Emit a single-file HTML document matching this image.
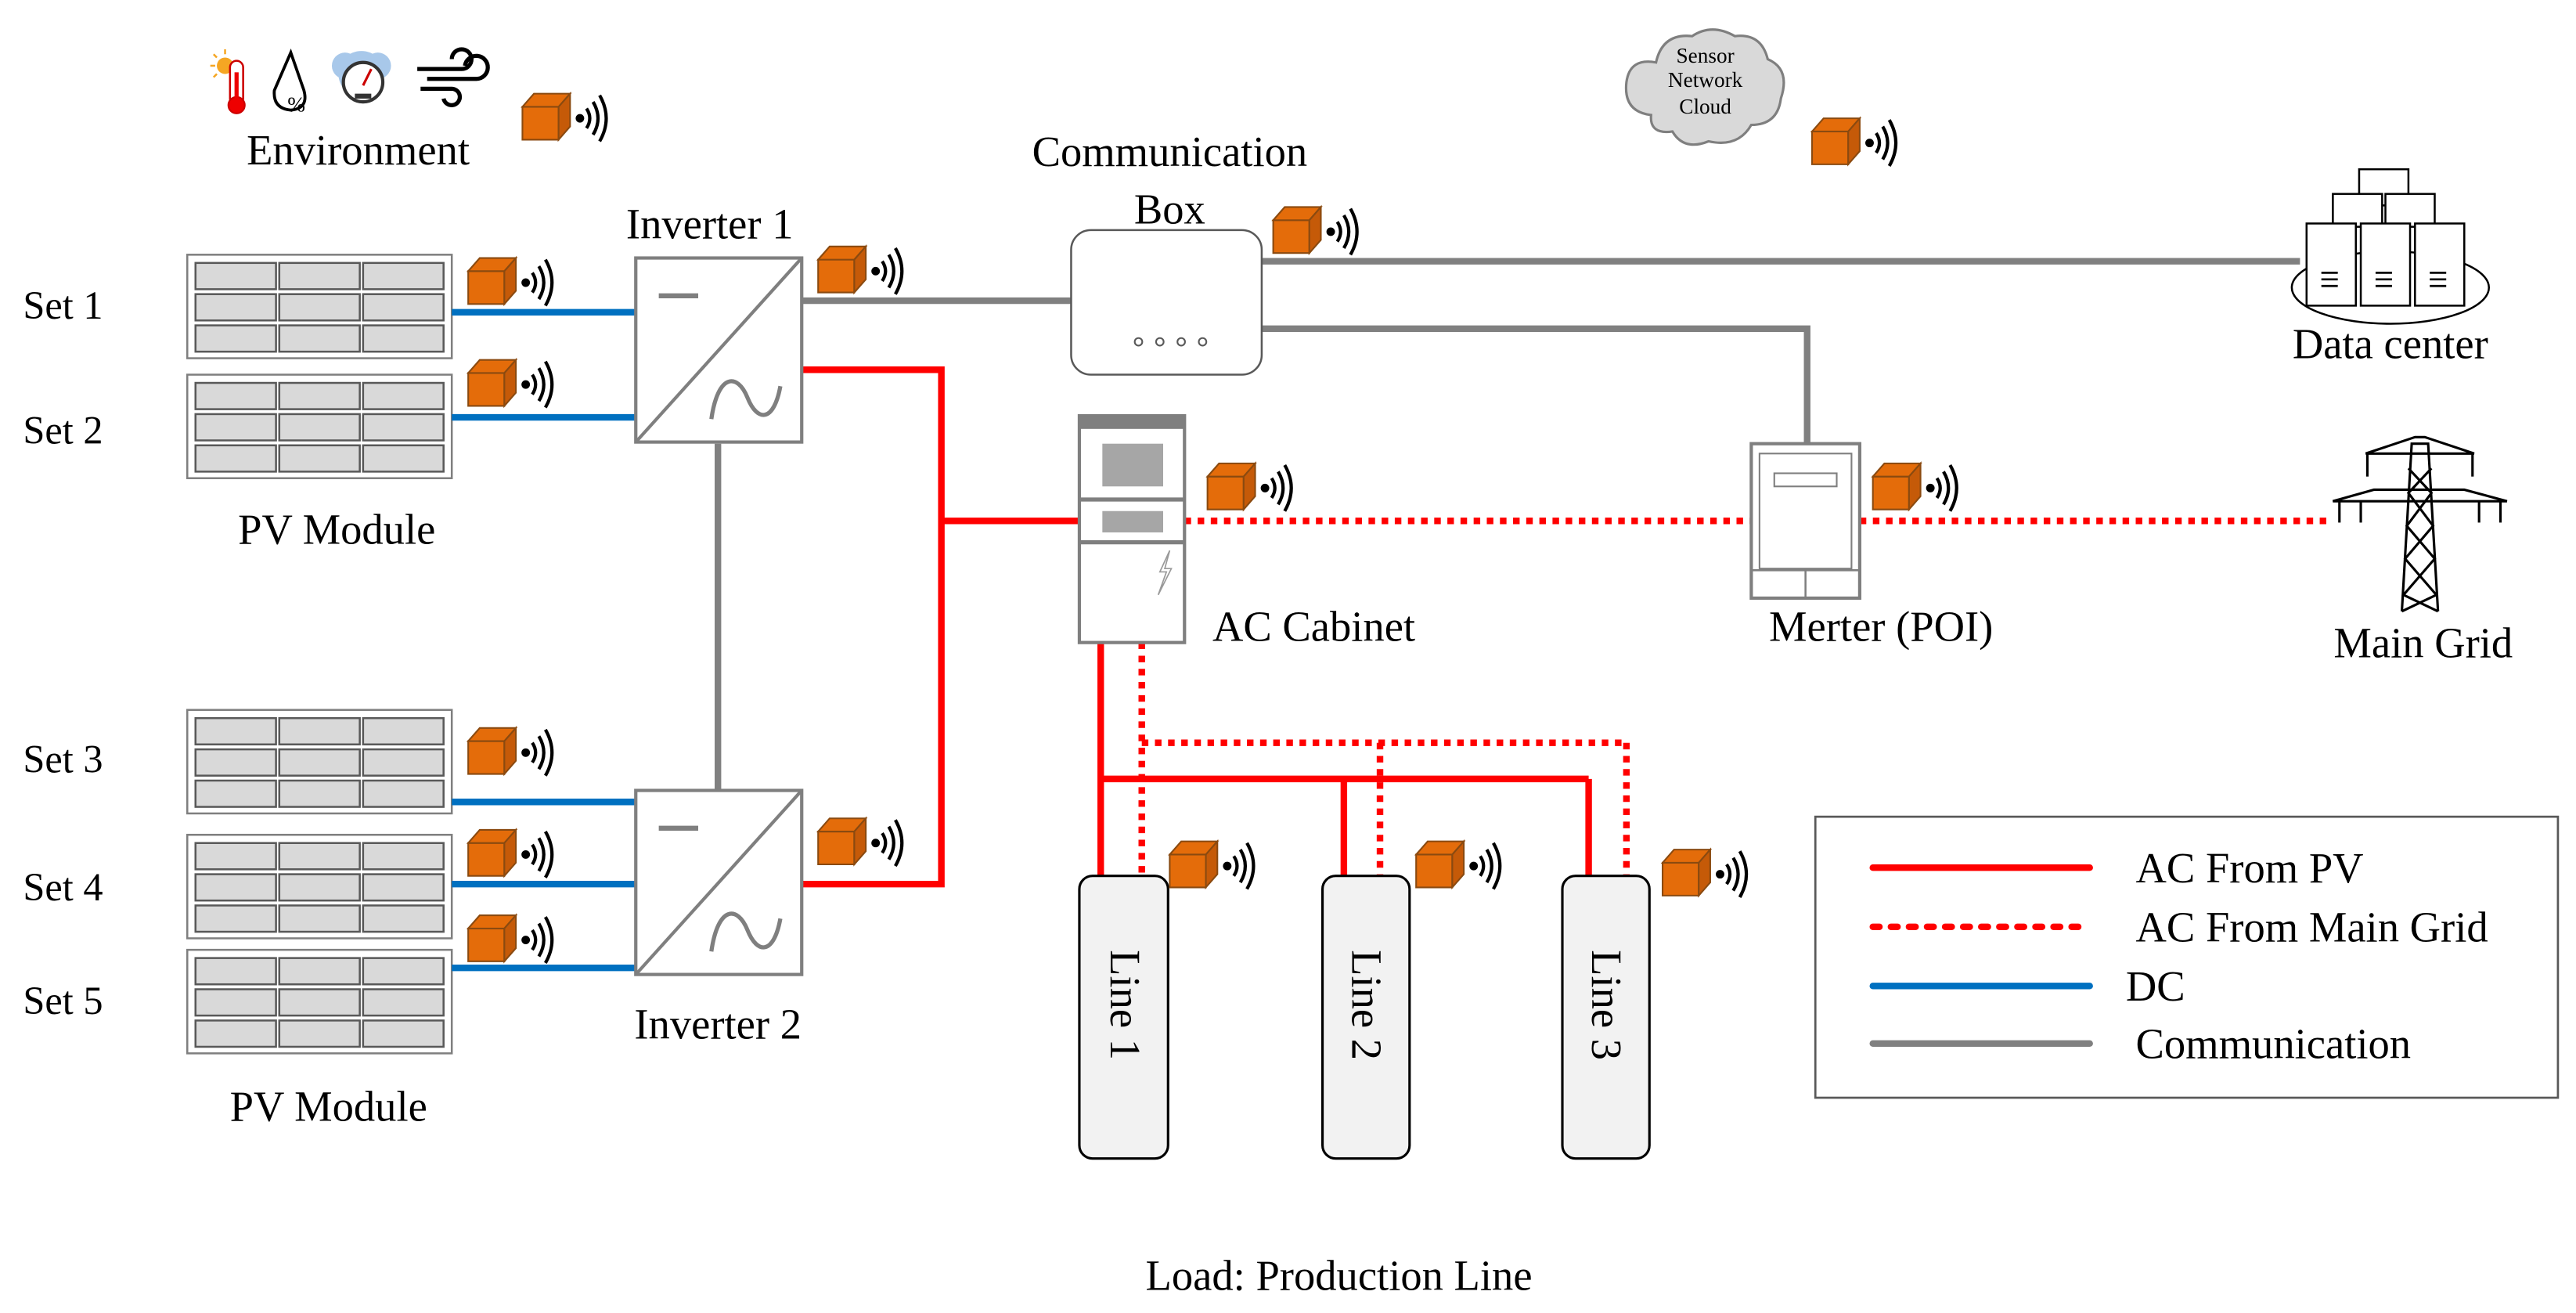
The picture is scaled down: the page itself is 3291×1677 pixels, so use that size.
<!DOCTYPE html>
<html><head><meta charset="utf-8"><style>
html,body{margin:0;padding:0;background:#fff;}
svg{display:block;}
text{font-family:"Liberation Serif","Times New Roman",serif;fill:#000;}
</style></head><body>
<svg width="3291" height="1677" viewBox="0 0 1568 799" preserveAspectRatio="none" xmlns="http://www.w3.org/2000/svg" font-family="Liberation Serif, serif">
<defs>
<g id="sensor">
  <polygon points="0,8 22,8 22,28 0,28" fill="#e46c0a" stroke="#8a4a10" stroke-width="1"/>
  <polygon points="0,8 7,0 29,0 22,8" fill="#e46c0a" stroke="#8a4a10" stroke-width="1"/>
  <polygon points="22,8 29,0 29,20 22,28" fill="#c55a08" stroke="#8a4a10" stroke-width="1"/>
  <circle cx="35" cy="15" r="2.6" fill="#000"/>
  <path d="M39,9 Q43,15 39,21" fill="none" stroke="#000" stroke-width="2"/>
  <path d="M43,5 Q49,15 43,25" fill="none" stroke="#000" stroke-width="2"/>
  <path d="M47,1 Q55,15 47,29" fill="none" stroke="#000" stroke-width="2"/>
</g>
<g id="panel">
  <rect x="0" y="0" width="161" height="63" fill="#fff" stroke="#7f7f7f" stroke-width="1.2"/>
  <g fill="#d9d9d9" stroke="#595959" stroke-width="1.2">
    <rect x="5" y="5" width="49" height="16"/><rect x="56" y="5" width="49" height="16"/><rect x="107" y="5" width="49" height="16"/>
    <rect x="5" y="24" width="49" height="16"/><rect x="56" y="24" width="49" height="16"/><rect x="107" y="24" width="49" height="16"/>
    <rect x="5" y="43" width="49" height="16"/><rect x="56" y="43" width="49" height="16"/><rect x="107" y="43" width="49" height="16"/>
  </g>
</g>
<g id="inverter">
  <rect x="0" y="0" width="101" height="112" fill="#fff" stroke="#7f7f7f" stroke-width="2"/>
  <line x1="0" y1="112" x2="101" y2="0" stroke="#7f7f7f" stroke-width="2"/>
  <line x1="14" y1="23" x2="38" y2="23" stroke="#7f7f7f" stroke-width="3"/>
  <path d="M46,98 C50,70 62,70 68,85 C74,100 84,100 88,78" fill="none" stroke="#7f7f7f" stroke-width="2.5"/>
</g>
</defs>

<g>
  <circle cx="137" cy="40" r="5" fill="#f5a623"/>
  <g stroke="#f5a623" stroke-width="1.2"><line x1="137" y1="30" x2="137" y2="33"/><line x1="128" y1="40" x2="131" y2="40"/><line x1="130" y1="33" x2="132" y2="35"/><line x1="130" y1="47" x2="132" y2="45"/></g>
  <rect x="140" y="37" width="8" height="27" rx="4" fill="#fff" stroke="#c00" stroke-width="1.2"/>
  <circle cx="144" cy="64" r="5" fill="#e00" stroke="#c00"/>
  <line x1="144" y1="44" x2="144" y2="62" stroke="#e00" stroke-width="2.5"/>
  <path d="M177,32 L167,55 Q166,66 177,67 Q188,66 185,55 Z" fill="none" stroke="#000" stroke-width="1.8"/>
  <text x="175" y="68" font-size="13" font-family="Liberation Serif, serif">%</text>
  <circle cx="220" cy="45" r="14" fill="#a8c8ea"/><circle cx="210" cy="40" r="8" fill="#a8c8ea"/><circle cx="230" cy="40" r="8" fill="#a8c8ea"/>
  <circle cx="221" cy="50" r="12" fill="#fff" stroke="#333" stroke-width="2"/>
  <line x1="221" y1="52" x2="226" y2="42" stroke="#c00" stroke-width="1.5"/>
  <rect x="216" y="57" width="10" height="3" fill="#333"/>
  <g fill="none" stroke="#000" stroke-width="2.5">
    <path d="M254,42 H281 A6,6 0 1 0 275,36"/>
    <path d="M260,48 H290 A7,7 0 1 0 283,40"/>
    <path d="M256,54 H275 A5,5 0 1 1 270,60"/>
  </g>
</g>
<text x="218" y="100" font-size="26" text-anchor="middle" font-family="Liberation Serif, serif">Environment</text>
<use href="#sensor" x="318" y="57"/>

<g font-size="24" font-family="Liberation Serif, serif">
  <text x="14" y="194">Set 1</text>
  <text x="14" y="270">Set 2</text>
  <text x="14" y="470">Set 3</text>
  <text x="14" y="548">Set 4</text>
  <text x="14" y="617">Set 5</text>
</g>

<use href="#panel" x="114" y="155"/>
<use href="#panel" x="114" y="228"/>
<use href="#panel" x="114" y="432"/>
<use href="#panel" x="114" y="508"/>
<use href="#panel" x="114" y="578"/>
<text x="205" y="331" font-size="26" text-anchor="middle" font-family="Liberation Serif, serif">PV Module</text>
<text x="200" y="682" font-size="26" text-anchor="middle" font-family="Liberation Serif, serif">PV Module</text>

<g stroke="#0070c0" stroke-width="4">
  <line x1="275" y1="190" x2="387" y2="190"/>
  <line x1="275" y1="254" x2="387" y2="254"/>
  <line x1="275" y1="488" x2="387" y2="488"/>
  <line x1="275" y1="538" x2="387" y2="538"/>
  <line x1="275" y1="589" x2="387" y2="589"/>
</g>

<use href="#sensor" x="285" y="157"/>
<use href="#sensor" x="285" y="219"/>
<use href="#sensor" x="285" y="443"/>
<use href="#sensor" x="285" y="505"/>
<use href="#sensor" x="285" y="557"/>

<g stroke="#808080" stroke-width="4" fill="none">
  <line x1="437" y1="270" x2="437" y2="481"/>
  <line x1="488" y1="183" x2="652" y2="183"/>
  <line x1="768" y1="159" x2="1400" y2="159"/>
  <polyline points="768,200 1100,200 1100,270"/>
</g>

<g stroke="#ff0000" stroke-width="4" fill="none">
  <polyline points="488,225 573,225 573,538 488,538"/>
  <line x1="573" y1="317" x2="657" y2="317"/>
  <line x1="670" y1="391" x2="670" y2="533"/>
  <line x1="670" y1="474" x2="967" y2="474"/>
  <line x1="818" y1="474" x2="818" y2="533"/>
  <line x1="967" y1="474" x2="967" y2="533"/>
</g>
<g stroke="#ff0000" stroke-width="4" fill="none" stroke-dasharray="4 4">
  <line x1="721" y1="317" x2="1066" y2="317"/>
  <line x1="1132" y1="317" x2="1420" y2="317"/>
  <line x1="695" y1="391" x2="695" y2="533"/>
  <line x1="695" y1="452" x2="990" y2="452"/>
  <line x1="840" y1="452" x2="840" y2="533"/>
  <line x1="990" y1="452" x2="990" y2="533"/>
</g>

<use href="#inverter" x="387" y="157"/>
<use href="#inverter" x="387" y="481"/>
<text x="432" y="145" font-size="26" text-anchor="middle" font-family="Liberation Serif, serif">Inverter 1</text>
<text x="437" y="632" font-size="26" text-anchor="middle" font-family="Liberation Serif, serif">Inverter 2</text>
<use href="#sensor" x="498" y="150"/>
<use href="#sensor" x="498" y="498"/>

<rect x="652" y="140" width="116" height="88" rx="12" fill="#fff" stroke="#595959" stroke-width="1.2"/>
<g fill="#fff" stroke="#595959" stroke-width="1"><circle cx="693" cy="208" r="2.3"/><circle cx="706" cy="208" r="2.3"/><circle cx="719" cy="208" r="2.3"/><circle cx="732" cy="208" r="2.3"/></g>
<text x="712" y="101" font-size="26" text-anchor="middle" font-family="Liberation Serif, serif">Communication</text>
<text x="712" y="136" font-size="26" text-anchor="middle" font-family="Liberation Serif, serif">Box</text>
<use href="#sensor" x="775" y="126"/>

<path d="M1005,70 Q988,68 990,50 Q992,35 1008,38 Q1012,20 1030,22 Q1042,14 1056,22 Q1072,20 1076,36 Q1090,42 1084,60 Q1082,76 1066,76 Q1058,90 1040,86 Q1025,92 1018,80 Q1004,82 1005,70 Z" fill="#d9d9d9" stroke="#7f7f7f" stroke-width="1.5"/>
<g font-size="13" text-anchor="middle" font-family="Liberation Serif, serif">
  <text x="1038" y="38">Sensor</text>
  <text x="1038" y="53">Network</text>
  <text x="1038" y="69">Cloud</text>
</g>
<use href="#sensor" x="1103" y="72"/>

<g fill="#fff" stroke="#000" stroke-width="1.2">
  <ellipse cx="1455" cy="175" rx="60" ry="22"/>
  <rect x="1436" y="103" width="30" height="22"/>
  <rect x="1420" y="118" width="30" height="20"/>
  <rect x="1452" y="118" width="30" height="20"/>
  <rect x="1404" y="136" width="30" height="50"/>
  <rect x="1437" y="136" width="30" height="50"/>
  <rect x="1470" y="136" width="30" height="50"/>
</g>
<g stroke="#000" stroke-width="1.3">
  <line x1="1413" y1="166" x2="1423" y2="166"/><line x1="1413" y1="170" x2="1423" y2="170"/><line x1="1413" y1="174" x2="1423" y2="174"/>
  <line x1="1446" y1="166" x2="1456" y2="166"/><line x1="1446" y1="170" x2="1456" y2="170"/><line x1="1446" y1="174" x2="1456" y2="174"/>
  <line x1="1479" y1="166" x2="1489" y2="166"/><line x1="1479" y1="170" x2="1489" y2="170"/><line x1="1479" y1="174" x2="1489" y2="174"/>
</g>
<text x="1455" y="218" font-size="26" text-anchor="middle" font-family="Liberation Serif, serif">Data center</text>

<rect x="657" y="253" width="64" height="138" fill="#fff" stroke="#7f7f7f" stroke-width="2"/>
<rect x="657" y="253" width="64" height="8" fill="#7f7f7f"/>
<line x1="657" y1="304" x2="721" y2="304" stroke="#7f7f7f" stroke-width="2.5"/>
<line x1="657" y1="330" x2="721" y2="330" stroke="#7f7f7f" stroke-width="2.5"/>
<rect x="671" y="270" width="37" height="26" fill="#a6a6a6"/>
<rect x="671" y="311" width="37" height="13" fill="#a6a6a6"/>
<path d="M712,335 L706,348 L710,348 L705,362 L713,346 L709,346 Z" fill="#fff" stroke="#999" stroke-width="0.8"/>
<text x="738" y="390" font-size="26" font-family="Liberation Serif, serif">AC Cabinet</text>
<use href="#sensor" x="735" y="282"/>

<rect x="1066" y="270" width="66" height="94" fill="#fff" stroke="#7f7f7f" stroke-width="2"/>
<rect x="1071" y="276" width="56" height="70" fill="#fff" stroke="#7f7f7f" stroke-width="1"/>
<rect x="1080" y="288" width="38" height="8" fill="#fff" stroke="#7f7f7f" stroke-width="1"/>
<line x1="1066" y1="347" x2="1132" y2="347" stroke="#7f7f7f" stroke-width="1.2"/>
<line x1="1099" y1="347" x2="1099" y2="364" stroke="#7f7f7f" stroke-width="1.2"/>
<text x="1145" y="390" font-size="26" text-anchor="middle" font-family="Liberation Serif, serif">Merter (POI)</text>
<use href="#sensor" x="1140" y="282"/>

<g fill="none" stroke="#000" stroke-width="1.5">
  <path d="M1462,372 L1468,270 L1478,270 L1484,372"/>
  <path d="M1440,276 L1470,266 L1476,266 L1506,276 Z"/>
  <path d="M1420,305 L1445,298 L1500,298 L1526,305 Z"/>
  <path d="M1466,285 L1480,300 L1465,320 L1482,340 L1463,362 L1484,372 M1480,285 L1466,300 L1481,320 L1464,340 L1483,362 L1462,372"/>
  <line x1="1441" y1="276" x2="1441" y2="290"/><line x1="1505" y1="276" x2="1505" y2="290"/>
  <line x1="1424" y1="305" x2="1424" y2="318"/><line x1="1437" y1="305" x2="1437" y2="318"/>
  <line x1="1509" y1="305" x2="1509" y2="318"/><line x1="1522" y1="305" x2="1522" y2="318"/>
</g>
<text x="1475" y="400" font-size="26" text-anchor="middle" font-family="Liberation Serif, serif">Main Grid</text>

<g fill="#f2f2f2" stroke="#000" stroke-width="1.5">
  <rect x="657" y="533" width="54" height="172" rx="8"/>
  <rect x="805" y="533" width="53" height="172" rx="8"/>
  <rect x="951" y="533" width="53" height="172" rx="8"/>
</g>
<g font-size="26" font-family="Liberation Serif, serif">
  <text transform="translate(676,578) rotate(90)">Line 1</text>
  <text transform="translate(823,578) rotate(90)">Line 2</text>
  <text transform="translate(969,578) rotate(90)">Line 3</text>
</g>
<use href="#sensor" x="712" y="512"/>
<use href="#sensor" x="862" y="512"/>
<use href="#sensor" x="1012" y="517"/>
<text x="815" y="785" font-size="26" text-anchor="middle" font-family="Liberation Serif, serif">Load: Production Line</text>

<rect x="1105" y="497" width="452" height="171" fill="#fff" stroke="#595959" stroke-width="1.3"/>
<g stroke-width="4" stroke-linecap="round">
  <line x1="1140" y1="528" x2="1272" y2="528" stroke="#ff0000"/>
  <line x1="1140" y1="564" x2="1272" y2="564" stroke="#ff0000" stroke-dasharray="4 7"/>
  <line x1="1140" y1="600" x2="1272" y2="600" stroke="#0070c0"/>
  <line x1="1140" y1="635" x2="1272" y2="635" stroke="#808080"/>
</g>
<g font-size="26" font-family="Liberation Serif, serif">
  <text x="1300" y="537">AC From PV</text>
  <text x="1300" y="573">AC From Main Grid</text>
  <text x="1294" y="609">DC</text>
  <text x="1300" y="644">Communication</text>
</g>
</svg>
</body></html>
